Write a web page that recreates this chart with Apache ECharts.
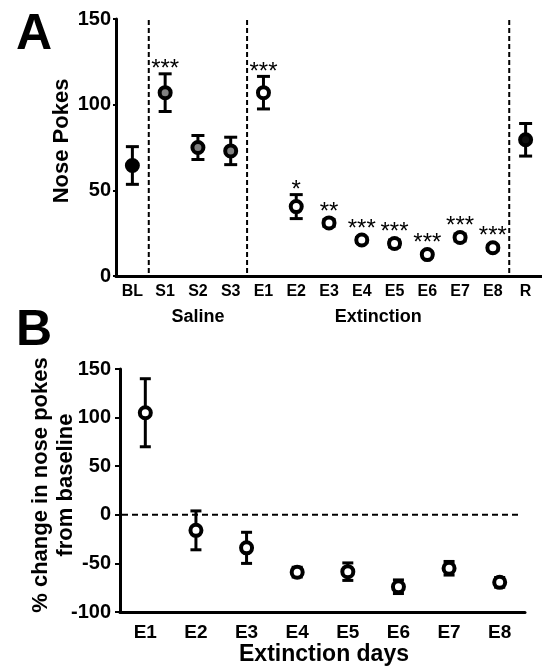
<!DOCTYPE html>
<html>
<head>
<meta charset="utf-8">
<script src="https://cdn.jsdelivr.net/npm/echarts@6/dist/echarts.min.js"></script>
<style>
  html, body { margin: 0; padding: 0; background: #fff; }
  #chart { width: 542px; height: 668px; }
</style>
</head>
<body>
<div id="chart"></div>
<script>
// ---------- DATA ----------
const catsA = ['BL', 'S1', 'S2', 'S3', 'E1', 'E2', 'E3', 'E4', 'E5', 'E6', 'E7', 'E8', 'R'];
const meanA = [64.5, 107, 75, 73, 107, 40.5, 31, 21, 19, 12.5, 22.5, 16.5, 79.5];
const semA  = [11, 11, 7, 8, 9.5, 7, 2, 1.5, 2, 1.5, 2, 1.5, 9.5];
const phaseA = ['baseline', 'saline', 'saline', 'saline', 'extinction', 'extinction', 'extinction',
                'extinction', 'extinction', 'extinction', 'extinction', 'extinction', 'reinstatement'];
const starsA = ['', '***', '', '', '***', '*', '**', '***', '***', '***', '***', '***', ''];
const dividerAfterA = [0, 3, 11];
const groupLabelsA = [{ text: 'Saline', from: 1, to: 3 }, { text: 'Extinction', from: 4, to: 11 }];
const ticksA = [0, 50, 100, 150];

const catsB = ['E1', 'E2', 'E3', 'E4', 'E5', 'E6', 'E7', 'E8'];
const meanB = [105, -16, -34, -59, -58.5, -74, -55, -69.5];
const semB  = [35, 20, 16, 5, 9, 7, 7, 5];
const ticksB = [-100, -50, 0, 50, 100, 150];
const refLineB = 0;

// ---------- STYLE ----------
const FONT = 'Liberation Sans, Arial, sans-serif';
const fillOf = { baseline: '#000', saline: '#808080', extinction: '#fff', reinstatement: '#111' };

const chart = echarts.init(document.getElementById('chart'), null, { renderer: 'canvas' });

function errorBarSeries(xi, yi, mean, sem, capHalf) {
  return {
    type: 'custom', xAxisIndex: xi, yAxisIndex: yi, z: 2,
    data: mean.map((m, i) => [i, m, sem[i]]),
    encode: { x: 0, y: 1 },
    renderItem: function (params, api) {
      const i = api.value(0), m = api.value(1), s = api.value(2);
      const t = api.coord([i, m + s]), b = api.coord([i, m - s]);
      const st = { stroke: '#000', lineWidth: 3 };
      return {
        type: 'group', children: [
          { type: 'line', shape: { x1: t[0], y1: t[1], x2: b[0], y2: b[1] }, style: st },
          { type: 'line', shape: { x1: t[0] - capHalf, y1: t[1], x2: t[0] + capHalf, y2: t[1] }, style: st },
          { type: 'line', shape: { x1: b[0] - capHalf, y1: b[1], x2: b[0] + capHalf, y2: b[1] }, style: st }
        ]
      };
    }
  };
}

const axisText = (size) => ({ color: '#000', fontSize: size, fontWeight: 'bold', fontFamily: FONT });

const option = {
  animation: false,
  backgroundColor: '#fff',
  grid: [
    { left: 116, top: 19, width: 429, height: 257 },
    { left: 120, top: 369, width: 405, height: 243 }
  ],
  xAxis: [
    {
      type: 'category', gridIndex: 0, data: catsA, boundaryGap: true,
      axisLine: { onZero: false, lineStyle: { color: '#000', width: 3 } },
      axisTick: { alignWithLabel: true, length: 4, lineStyle: { color: '#000', width: 2 } },
      axisLabel: Object.assign({ margin: 8, interval: 0 }, axisText(16)),
      splitLine: { show: false }
    },
    {
      type: 'category', gridIndex: 1, data: catsB, boundaryGap: true,
      axisLine: { onZero: false, lineStyle: { color: '#000', width: 3 } },
      axisTick: { alignWithLabel: true, length: 5, lineStyle: { color: '#000', width: 2 } },
      axisLabel: Object.assign({ margin: 11, interval: 0 }, axisText(19)),
      splitLine: { show: false }
    }
  ],
  yAxis: [
    {
      type: 'value', gridIndex: 0, min: ticksA[0], max: ticksA[ticksA.length - 1], interval: 50,
      axisLine: { show: true, onZero: false, lineStyle: { color: '#000', width: 3 } },
      axisTick: { show: true, length: 3, lineStyle: { color: '#000', width: 2 } },
      axisLabel: Object.assign({ margin: 5 }, axisText(20)),
      splitLine: { show: false }
    },
    {
      type: 'value', gridIndex: 1, min: ticksB[0], max: ticksB[ticksB.length - 1], interval: 50,
      axisLine: { show: true, onZero: false, lineStyle: { color: '#000', width: 3 } },
      axisTick: { show: true, length: 5, lineStyle: { color: '#000', width: 2 } },
      axisLabel: Object.assign({ margin: 9 }, axisText(20)),
      splitLine: { show: false }
    }
  ],
  series: [
    // dashed phase dividers (panel A)
    {
      type: 'custom', xAxisIndex: 0, yAxisIndex: 0, z: 1,
      data: dividerAfterA.map(i => [i, 0]),
      encode: { x: 0, y: 1 },
      renderItem: function (params, api) {
        const i = api.value(0);
        const a = api.coord([i, ticksA[ticksA.length - 1]]);
        const b = api.coord([i + 1, 0]);
        const x = (a[0] + b[0]) / 2;
        return {
          type: 'line', shape: { x1: x, y1: a[1] + 1, x2: x, y2: b[1] - 2 },
          style: { stroke: '#000', lineWidth: 2, lineDash: [5, 3] }
        };
      }
    },
    errorBarSeries(0, 0, meanA, semA, 6.5),
    {
      type: 'scatter', xAxisIndex: 0, yAxisIndex: 0, z: 3,
      data: meanA.map((m, i) => [i, m]),
      symbol: 'circle', symbolSize: 11,
      itemStyle: {
        color: function (p) { return fillOf[phaseA[p.dataIndex]]; },
        borderColor: '#000', borderWidth: 4, opacity: 1
      }
    },
    // significance stars
    {
      type: 'custom', xAxisIndex: 0, yAxisIndex: 0, z: 4,
      data: meanA.map((m, i) => [i, m, semA[i]]),
      encode: { x: 0, y: 1 },
      renderItem: function (params, api) {
        const i = api.value(0), m = api.value(1), s = api.value(2);
        const txt = starsA[i];
        if (!txt) return null;
        const cap = api.coord([i, m + s]);
        const c = api.coord([i, m]);
        const topY = Math.min(cap[1], c[1] - 7);
        return {
          type: 'text', x: c[0], y: topY - 4,
          style: { text: txt, fill: '#000', fontSize: 24, fontFamily: FONT, align: 'center', verticalAlign: 'middle' }
        };
      }
    },
    // panel B reference line at 0
    {
      type: 'custom', xAxisIndex: 1, yAxisIndex: 1, z: 1,
      data: [[0, refLineB]],
      encode: { x: 0, y: 1 },
      renderItem: function (params, api) {
        const p = api.coord([0, api.value(1)]);
        const left = params.coordSys.x;
        const right = params.coordSys.x + params.coordSys.width - 5;
        return {
          type: 'line', shape: { x1: left + 2, y1: p[1], x2: right, y2: p[1] },
          style: { stroke: '#000', lineWidth: 2, lineDash: [6, 4] }
        };
      }
    },
    errorBarSeries(1, 1, meanB, semB, 5.5),
    {
      type: 'scatter', xAxisIndex: 1, yAxisIndex: 1, z: 3,
      data: meanB.map((m, i) => [i, m]),
      symbol: 'circle', symbolSize: 11,
      itemStyle: { color: '#fff', borderColor: '#000', borderWidth: 4, opacity: 1 }
    }
  ],
  graphic: [
    { type: 'text', left: 16, top: 10, style: { text: 'A', fontSize: 50, fontWeight: 'bold', fontFamily: FONT, fill: '#000' } },
    { type: 'text', left: 16, top: 306, style: { text: 'B', fontSize: 50, fontWeight: 'bold', fontFamily: FONT, fill: '#000' } },
    { type: 'text', x: 62, y: 141, rotation: Math.PI / 2,
      style: { text: 'Nose Pokes', fontSize: 22, fontWeight: 'bold', fontFamily: FONT, fill: '#000', align: 'center', verticalAlign: 'middle' } },
    { type: 'text', x: 53, y: 485, rotation: Math.PI / 2,
      style: { text: '% change in nose pokes\nfrom baseline', fontSize: 22, lineHeight: 25, fontWeight: 'bold', fontFamily: FONT, fill: '#000', align: 'center', verticalAlign: 'middle' } },
    { type: 'text', x: 200, y: 317,
      style: { text: groupLabelsA[0].text, fontSize: 18, fontWeight: 'bold', fontFamily: FONT, fill: '#000', align: 'center', verticalAlign: 'middle' } },
    { type: 'text', x: 381, y: 317,
      style: { text: groupLabelsA[1].text, fontSize: 18, fontWeight: 'bold', fontFamily: FONT, fill: '#000', align: 'center', verticalAlign: 'middle' } },
    { type: 'text', x: 324, y: 655,
      style: { text: 'Extinction days', fontSize: 23, fontWeight: 'bold', fontFamily: FONT, fill: '#000', align: 'center', verticalAlign: 'middle' } }
  ]
};

chart.setOption(option);

// place group labels under their categories using the axis scale
const gl = groupLabelsA.map(g => {
  const a = chart.convertToPixel({ xAxisIndex: 0 }, g.from);
  const b = chart.convertToPixel({ xAxisIndex: 0 }, g.to);
  return (a + b) / 2;
});
const g = option.graphic;
g[4].x = gl[0];
g[5].x = gl[1];
chart.setOption({ graphic: g });
</script>
</body>
</html>
